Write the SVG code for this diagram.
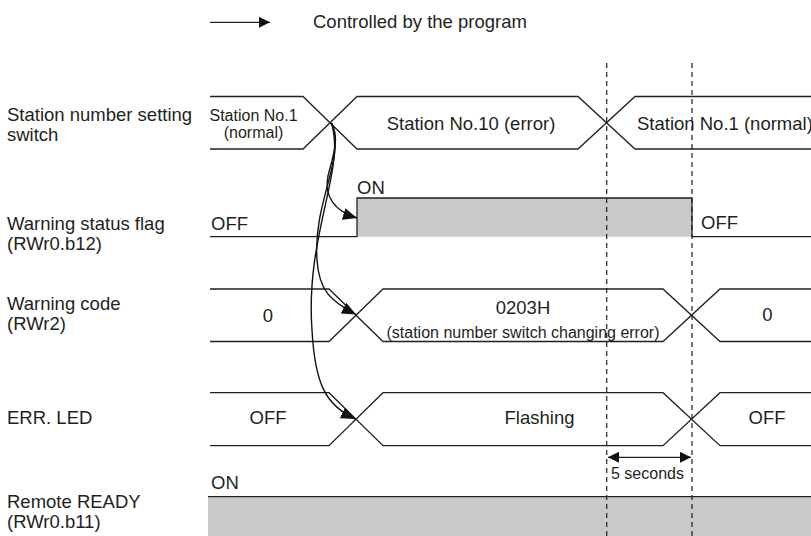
<svg xmlns="http://www.w3.org/2000/svg" width="811" height="536" viewBox="0 0 811 536">
<defs>
<style>
text{font-family:"Liberation Sans",Arial,sans-serif;fill:#231f20;font-size:18.5px}
.s{font-size:16px}
.c{text-anchor:middle}
.ln{fill:none;stroke:#231f20;stroke-width:1.3}
.dash{fill:none;stroke:#231f20;stroke-width:1.2;stroke-dasharray:5 4}
.gray{fill:#c8c9cb;stroke:none}
.cv{fill:none;stroke:#111;stroke-width:1.4}
</style>
<marker id="ah" markerUnits="userSpaceOnUse" markerWidth="15" markerHeight="13" refX="14" refY="6" orient="auto-start-reverse">
<path d="M0,0 L14,6 L0,12 z" fill="#111"/>
</marker>
<marker id="ah2" markerUnits="userSpaceOnUse" markerWidth="12" markerHeight="12" refX="11" refY="5.5" orient="auto-start-reverse">
<path d="M0,0 L11,5.5 L0,11 z" fill="#111"/>
</marker>
</defs>
<rect width="811" height="536" fill="#fff"/>

<g id="legend">
<line class="ln" x1="210" y1="22.3" x2="270" y2="22.3" marker-end="url(#ah2)"/>
<text x="313" y="27.5">Controlled by the program</text>
</g>

<g id="labels">
<text x="7" y="120.7">Station number setting</text>
<text x="7" y="140.7">switch</text>
<text x="7" y="230">Warning status flag</text>
<text x="7" y="250">(RWr0.b12)</text>
<text x="7" y="310">Warning code</text>
<text x="7" y="330">(RWr2)</text>
<text x="7" y="423.5">ERR. LED</text>
<text x="7" y="508.3">Remote READY</text>
<text x="7" y="528">(RWr0.b11)</text>
</g>

<g id="ready">
<rect class="gray" x="208" y="496.7" width="603" height="40"/>
<line class="ln" x1="208" y1="496.7" x2="811" y2="496.7"/>
<text x="211" y="489">ON</text>
</g>

<g id="warning-flag">
<rect class="gray" x="357" y="198" width="335" height="38.7"/>
<path class="ln" d="M210,236.7 H357 V198 H692 V236.7 H811"/>
<text x="357" y="194">ON</text>
<text x="211" y="230">OFF</text>
<text x="701" y="229">OFF</text>
</g>

<g id="station-switch">
<path class="ln" d="M210,96.5 H303 L357,149 H578 L635,96.5 H811"/>
<path class="ln" d="M210,149 H303 L357,96.5 H578 L635,149 H811"/>
<text class="s c" x="253.5" y="120.7">Station No.1</text>
<text class="s c" x="253.5" y="138">(normal)</text>
<text class="c" x="471" y="130">Station No.10 (error)</text>
<text x="637" y="129.5">Station No.1 (normal)</text>
</g>

<g id="warning-code">
<path class="ln" d="M210,289 H329 L383,341.5 H663 L720,289 H811"/>
<path class="ln" d="M210,341.5 H329 L383,289 H663 L720,341.5 H811"/>
<text class="c" x="268" y="321.5">0</text>
<text class="c" x="523" y="314">0203H</text>
<text class="s c" x="523" y="338">(station number switch changing error)</text>
<text class="c" x="767.5" y="321">0</text>
</g>

<g id="err-led">
<path class="ln" d="M210,392.7 H329 L383,445.7 H663 L720,392.7 H811"/>
<path class="ln" d="M210,445.7 H329 L383,392.7 H663 L720,445.7 H811"/>
<text class="c" x="268" y="424">OFF</text>
<text class="c" x="539.5" y="423.5">Flashing</text>
<text class="c" x="767" y="424">OFF</text>
</g>

<g id="timing">
<line class="dash" x1="606.7" y1="63" x2="606.7" y2="536"/>
<line class="dash" x1="692" y1="63" x2="692" y2="536"/>
<line class="ln" x1="608" y1="457.3" x2="691" y2="457.3" marker-start="url(#ah2)" marker-end="url(#ah2)"/>
<text class="s" x="611" y="479">5 seconds</text>
</g>

<g id="connectors">
<path class="cv" d="M331.5,123 C340,138 333,156 328,176 C324,196 334,211 357,218" marker-end="url(#ah)"/>
<path class="cv" d="M331.5,123 C346,160 313,200 317,260 C319,290 330,301 356,314.5" marker-end="url(#ah)"/>
<path class="cv" d="M331.5,123 C346,170 305,235 312,330 C315,385 326,405 355,419" marker-end="url(#ah)"/>
</g>
</svg>
